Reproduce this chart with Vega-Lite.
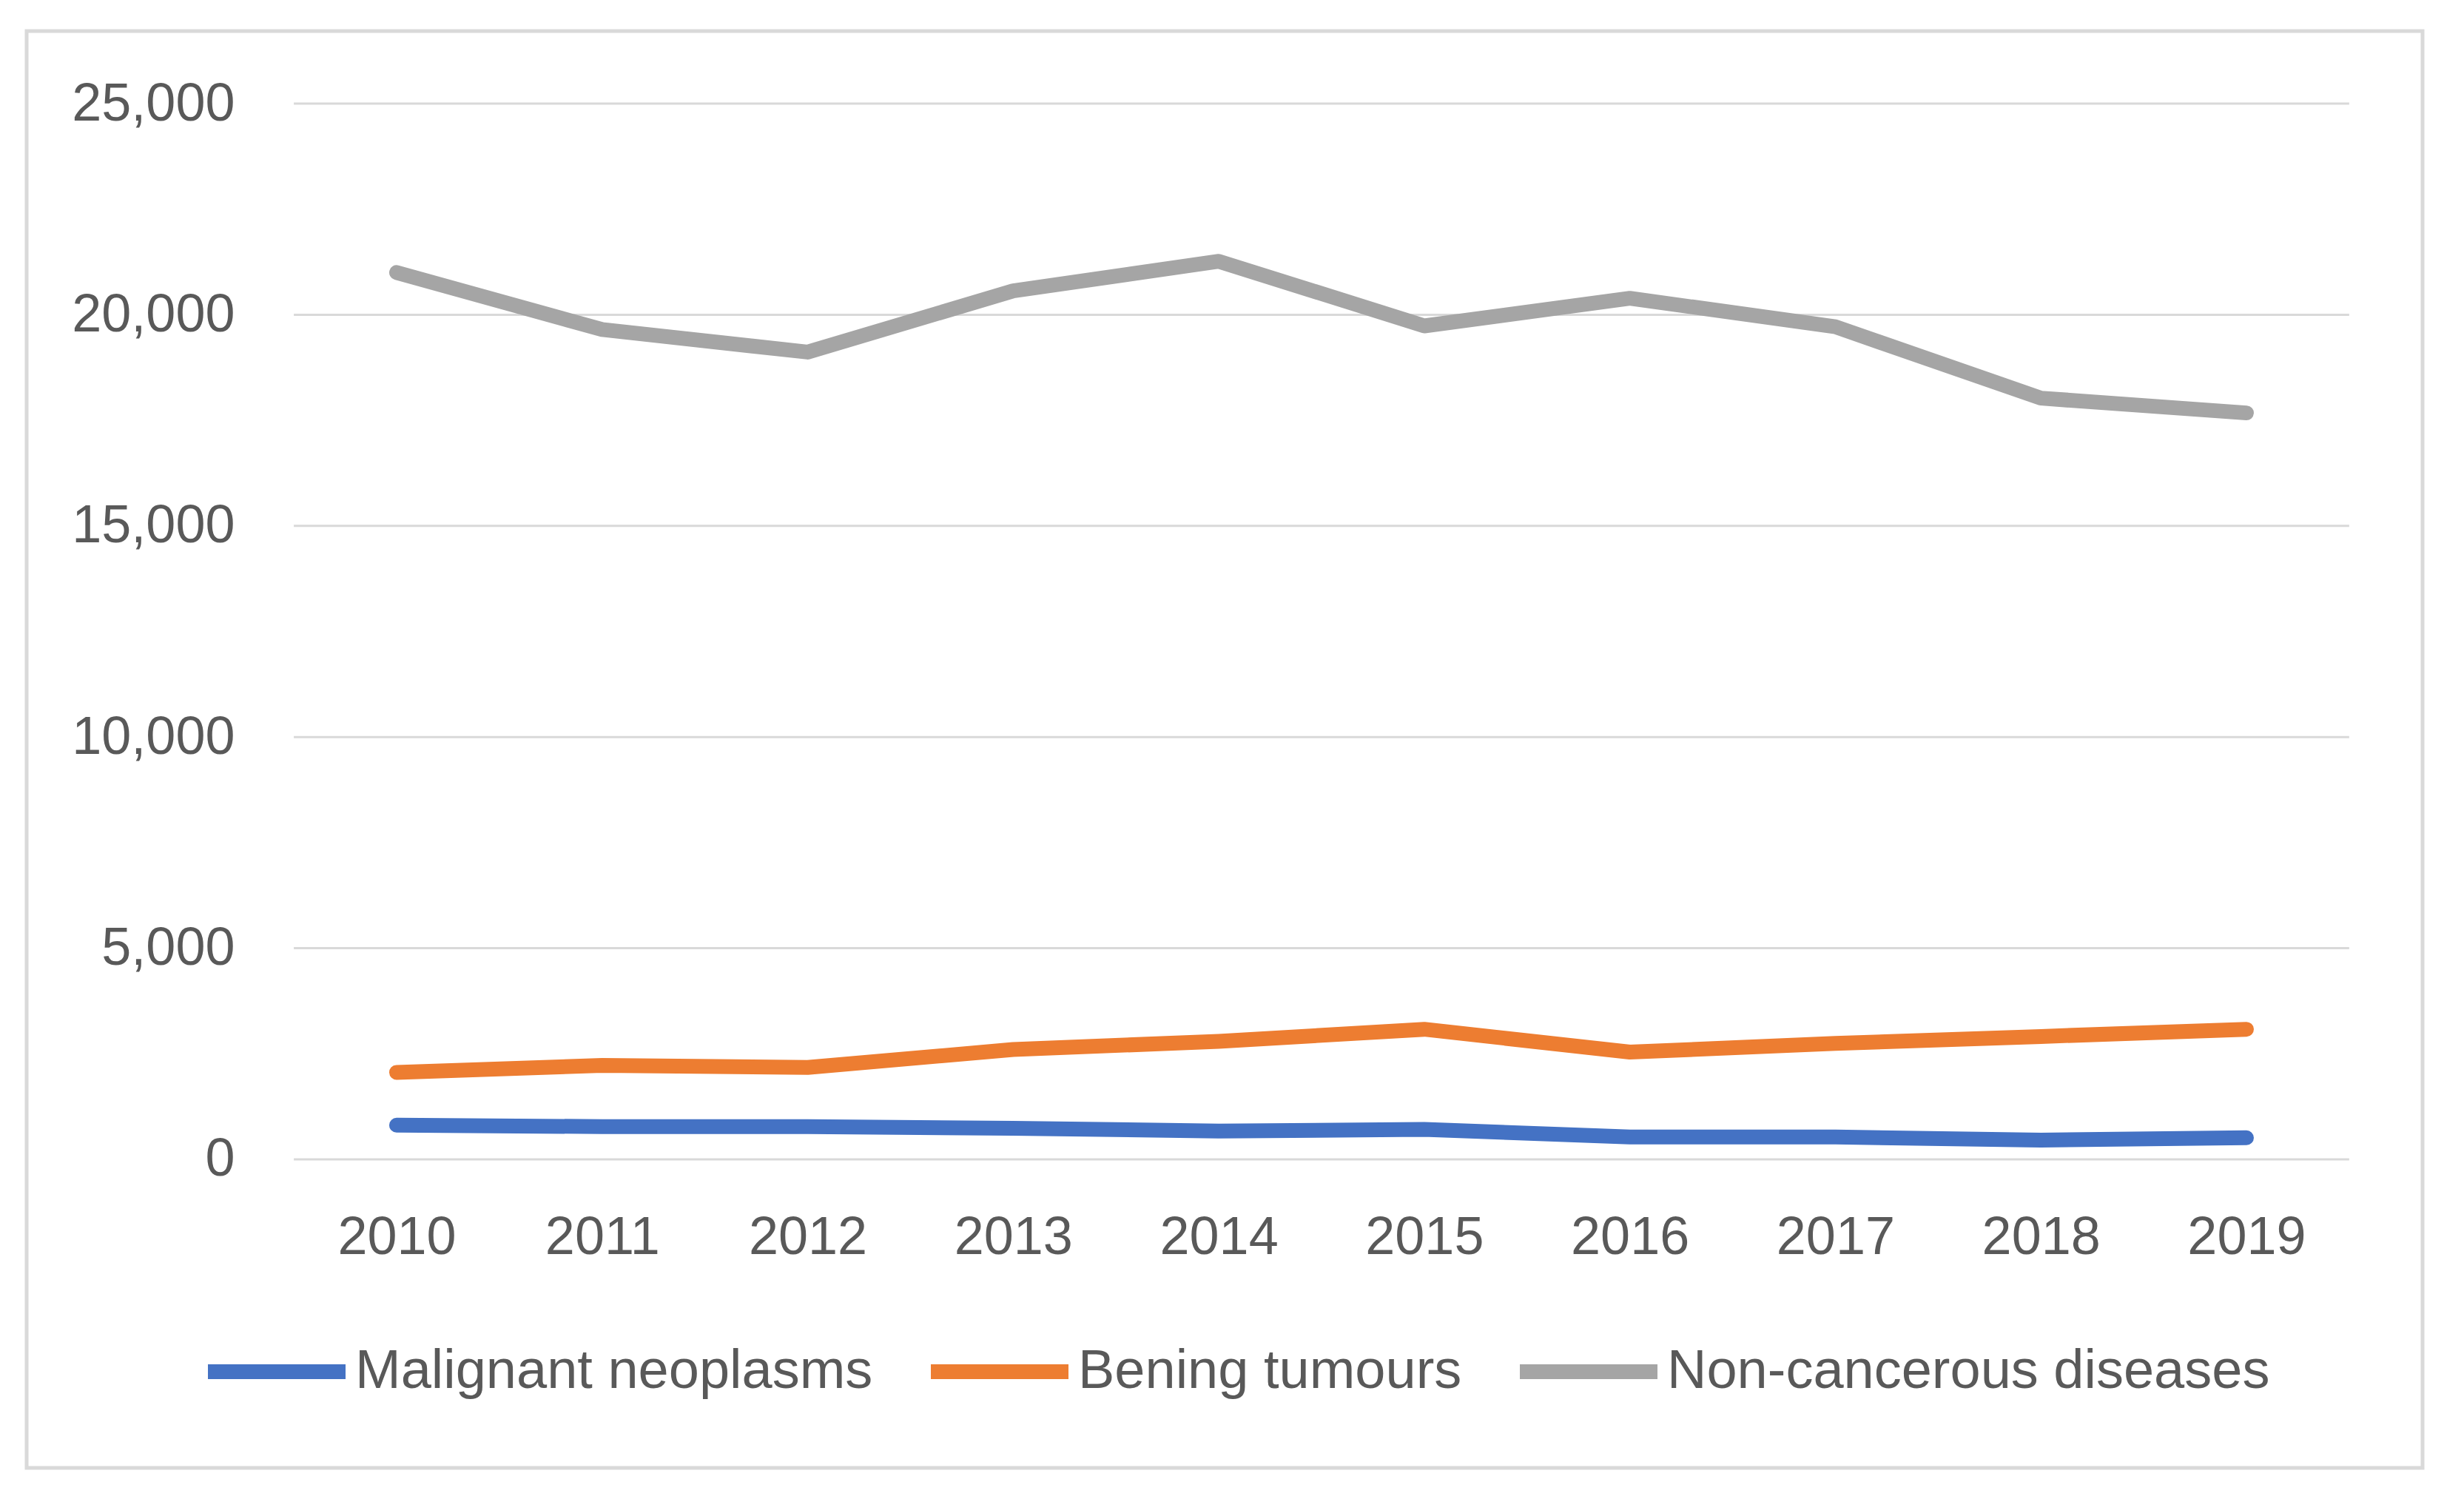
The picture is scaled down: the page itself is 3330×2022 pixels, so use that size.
{
  "$schema": "https://vega.github.io/schema/vega-lite/v6.json",
  "width": 3238,
  "height": 1942,
  "autosize": {"type": "none"},
  "padding": {"left": 36, "top": 42, "right": 56, "bottom": 38},
  "background": "white",
  "config": {
    "view": {"stroke": "#d9d9d9", "strokeWidth": 5},
    "font": "Liberation Sans",
    "axis": {
      "labelColor": "#595959",
      "labelFont": "Liberation Sans",
      "labelFontSize": 72,
      "labelLimit": 0,
      "grid": false,
      "domain": false,
      "ticks": false,
      "tickSize": 0,
      "title": null
    }
  },
  "datasets": {
    "grid": [
      {"value": 0}, {"value": 5000}, {"value": 10000}, {"value": 15000}, {"value": 20000}, {"value": 25000}
    ],
    "series": [
      {"year": 2010, "series": "Malignant neoplasms", "count": 810},
      {"year": 2011, "series": "Malignant neoplasms", "count": 775},
      {"year": 2012, "series": "Malignant neoplasms", "count": 775},
      {"year": 2013, "series": "Malignant neoplasms", "count": 735},
      {"year": 2014, "series": "Malignant neoplasms", "count": 670},
      {"year": 2015, "series": "Malignant neoplasms", "count": 710},
      {"year": 2016, "series": "Malignant neoplasms", "count": 530},
      {"year": 2017, "series": "Malignant neoplasms", "count": 530},
      {"year": 2018, "series": "Malignant neoplasms", "count": 455},
      {"year": 2019, "series": "Malignant neoplasms", "count": 510},
      {"year": 2010, "series": "Bening tumours", "count": 2060},
      {"year": 2011, "series": "Bening tumours", "count": 2225},
      {"year": 2012, "series": "Bening tumours", "count": 2175},
      {"year": 2013, "series": "Bening tumours", "count": 2600},
      {"year": 2014, "series": "Bening tumours", "count": 2795},
      {"year": 2015, "series": "Bening tumours", "count": 3080},
      {"year": 2016, "series": "Bening tumours", "count": 2540},
      {"year": 2017, "series": "Bening tumours", "count": 2745},
      {"year": 2018, "series": "Bening tumours", "count": 2910},
      {"year": 2019, "series": "Bening tumours", "count": 3080},
      {"year": 2010, "series": "Non-cancerous diseases", "count": 21000},
      {"year": 2011, "series": "Non-cancerous diseases", "count": 19650},
      {"year": 2012, "series": "Non-cancerous diseases", "count": 19115},
      {"year": 2013, "series": "Non-cancerous diseases", "count": 20565},
      {"year": 2014, "series": "Non-cancerous diseases", "count": 21265},
      {"year": 2015, "series": "Non-cancerous diseases", "count": 19735},
      {"year": 2016, "series": "Non-cancerous diseases", "count": 20390},
      {"year": 2017, "series": "Non-cancerous diseases", "count": 19715},
      {"year": 2018, "series": "Non-cancerous diseases", "count": 18025},
      {"year": 2019, "series": "Non-cancerous diseases", "count": 17675}
    ]
  },
  "layer": [
    {
      "data": {"name": "grid"},
      "mark": {"type": "rule", "color": "#d9d9d9", "strokeWidth": 3},
      "encoding": {
        "y": {
          "field": "value",
          "type": "quantitative",
          "scale": {"domain": [-7306, 26717], "nice": false, "zero": false},
          "axis": {"values": [0, 5000, 10000, 15000, 20000, 25000], "format": ",d", "offset": -281, "labelPadding": 0, "labelLimit": 0, "title": null}
        },
        "x": {
          "datum": 2009.5,
          "type": "quantitative",
          "scale": {"domain": [2008.2, 2019.857], "nice": false, "zero": false},
          "axis": {"values": [2010, 2011, 2012, 2013, 2014, 2015, 2016, 2017, 2018, 2019], "format": "d", "offset": -417, "labelPadding": 70, "title": null}
        },
        "x2": {"datum": 2019.5}
      }
    },
    {
      "data": {"name": "series"},
      "mark": {"type": "line", "strokeWidth": 20, "strokeCap": "round", "strokeJoin": "round"},
      "encoding": {
        "x": {"field": "year", "type": "quantitative", "title": null},
        "y": {"field": "count", "type": "quantitative", "title": null},
        "color": {
          "field": "series",
          "type": "nominal",
          "sort": ["Malignant neoplasms", "Bening tumours", "Non-cancerous diseases"],
          "scale": {
            "domain": ["Malignant neoplasms", "Bening tumours", "Non-cancerous diseases"],
            "range": ["#4472C4", "#ED7D31", "#A5A5A5"]
          },
          "legend": {
            "title": null,
            "orient": "none",
            "legendX": 235,
            "legendY": 1709,
            "direction": "horizontal",
            "symbolType": "stroke",
            "symbolSize": 34596,
            "symbolStrokeWidth": 20,
            "labelFont": "Liberation Sans",
            "labelFontSize": 74,
            "labelColor": "#595959",
            "labelOffset": 3,
            "labelLimit": 0,
            "columnPadding": 38,
            "padding": 0
          }
        }
      }
    }
  ]
}
